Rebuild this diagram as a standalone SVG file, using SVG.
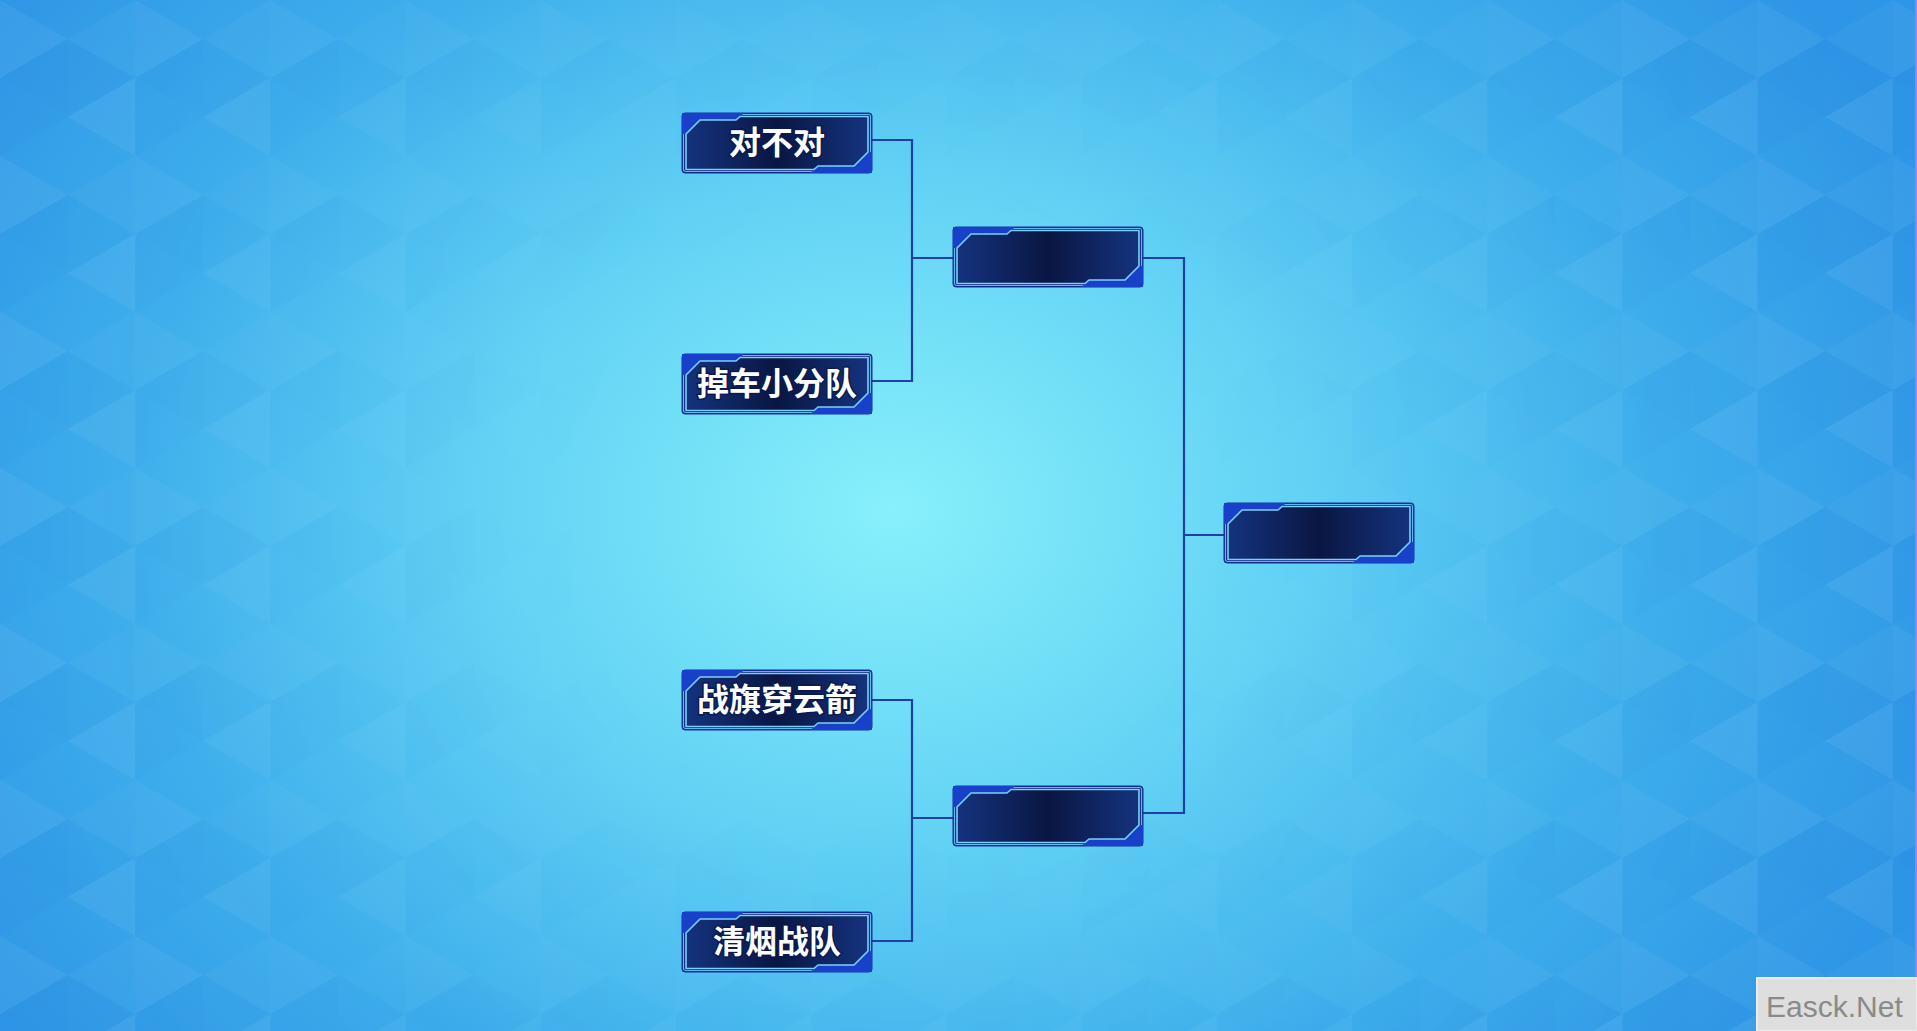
<svg xmlns="http://www.w3.org/2000/svg" width="1917" height="1031" viewBox="0 0 1917 1031">
<defs>
<radialGradient id="bg" cx="893" cy="510" r="1050" gradientUnits="userSpaceOnUse" gradientTransform="translate(893 510) scale(1.05 0.85) translate(-893 -510)">
<stop offset="0" stop-color="#88f0fb"/>
<stop offset="0.35" stop-color="#64d4f5"/>
<stop offset="0.7" stop-color="#3eaeec"/>
<stop offset="1" stop-color="#2e96e6"/>
</radialGradient>
<pattern id="tri" width="104" height="120" patternUnits="userSpaceOnUse" patternTransform="scale(1.3)">
<polygon points="0,0 52,30 0,60" fill="#ffffff" opacity="0.05"/>
<polygon points="52,30 52,90 0,60" fill="#1060d0" opacity="0.06"/>
<polygon points="0,60 52,90 0,120" fill="#2070e0" opacity="0.04"/>
<polygon points="52,30 104,0 104,60" fill="#ffffff" opacity="0.03"/>
<polygon points="52,90 104,60 104,120" fill="#ffffff" opacity="0.06"/>
<polygon points="52,30 104,60 52,90" fill="#1a5ad0" opacity="0.04"/>
</pattern>
<radialGradient id="mk" cx="893" cy="510" r="1000" gradientUnits="userSpaceOnUse">
<stop offset="0.3" stop-color="#000"/>
<stop offset="0.9" stop-color="#fff"/>
</radialGradient>
<mask id="edgeMask"><rect width="1917" height="1031" fill="url(#mk)"/></mask>
<linearGradient id="panel" x1="0" y1="0" x2="1" y2="0">
<stop offset="0" stop-color="#14337e"/>
<stop offset="0.5" stop-color="#0a1642"/>
<stop offset="1" stop-color="#14337e"/>
</linearGradient>
<g id="box">
<rect x="0" y="0" width="190" height="60" rx="3" fill="#0c2478" stroke="#1233a0" stroke-width="1"/>
<rect x="1.5" y="1.5" width="187" height="57" rx="2" fill="none" stroke="#5cb8f0" stroke-width="1.2"/>
<polygon points="0,0 62,0 58,4 54,7 18,7 4,21 0,21" fill="#1840c8"/>
<polygon points="190,60 128,60 132,57 136,53 172,53 186,39 190,39" fill="#1840c8"/>
<polygon points="4,21 18,7 54,7 58,3.5 186,3.5 186,39 172,53 136,53 132,56.5 4,56.5" fill="url(#panel)" stroke="#7ccffa" stroke-width="1.6" stroke-linejoin="round"/>
</g>
<style>
.lbl{font-family:"Noto Sans CJK SC","Noto Sans",sans-serif;font-weight:bold;font-size:32px;fill:#ffffff;text-anchor:middle;stroke:#0a1a50;stroke-width:3px;paint-order:stroke;}
.con{fill:none;stroke:#1d3fa6;stroke-width:2.2;}
.wm{font-family:"Liberation Sans",Arial,sans-serif;font-size:30px;fill:#8a8a8a;}
</style>
</defs>
<rect width="1917" height="1031" fill="url(#bg)"/>
<rect width="1917" height="1031" fill="url(#tri)" mask="url(#edgeMask)"/>
<rect x="1915" y="0" width="2" height="1031" fill="#a77be8"/>

<g id="connectors">
<path class="con" d="M872,140 H912 V381 H872"/>
<path class="con" d="M912,258 H953"/>
<path class="con" d="M872,700 H912 V941 H872"/>
<path class="con" d="M912,818 H953"/>
<path class="con" d="M1143,258 H1184 V813 H1143"/>
<path class="con" d="M1184,535 H1224"/>
</g>

<g id="team1"><use href="#box" x="682" y="113"/><text class="lbl" x="777" y="154">对不对</text></g>
<g id="team2"><use href="#box" x="682" y="354"/><text class="lbl" x="777" y="395">掉车小分队</text></g>
<g id="team3"><use href="#box" x="682" y="670"/><text class="lbl" x="777" y="711">战旗穿云箭</text></g>
<g id="team4"><use href="#box" x="682" y="912"/><text class="lbl" x="777" y="953">清烟战队</text></g>
<g id="semi1"><use href="#box" x="953" y="227"/></g>
<g id="semi2"><use href="#box" x="953" y="786"/></g>
<g id="final"><use href="#box" x="1224" y="503"/></g>

<g id="watermark">
<rect x="1757" y="978" width="160" height="53" fill="#dedede" stroke="#ececec" stroke-width="2"/>
<text class="wm" x="1766" y="1017">Easck.Net</text>
</g>
</svg>
